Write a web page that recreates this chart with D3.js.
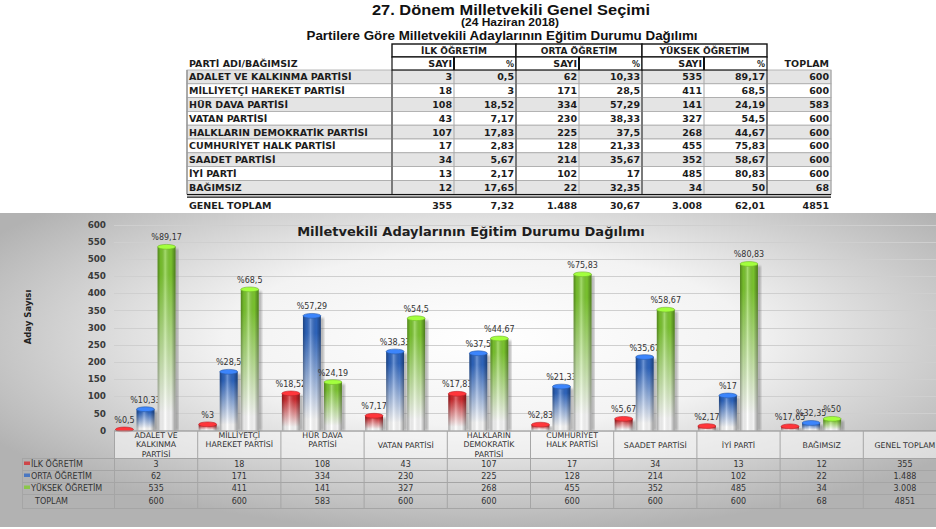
<!DOCTYPE html>
<html>
<head>
<meta charset="utf-8">
<script src="https://cdn.jsdelivr.net/npm/d3@7"></script>
<style>
  body { margin: 0; background: #fff; }
  svg { display: block; }
</style>
</head>
<body>
<div id="vis"></div>
<script>
// data
const parties = ["ADALET VE KALKINMA PARTİSİ", "MİLLİYETÇİ HAREKET PARTİSİ", "HÜR DAVA PARTİSİ", "VATAN PARTİSİ",
  "HALKLARIN DEMOKRATİK PARTİSİ", "CUMHURİYET HALK PARTİSİ", "SAADET PARTİSİ", "İYİ PARTİ", "BAĞIMSIZ"]
const ilk = [3, 18, 108, 43, 107, 17, 34, 13, 12]
const ilkPct = [0.5, 3, 18.52, 7.17, 17.83, 2.83, 5.67, 2.17, 17.65]
const orta = [62, 171, 334, 230, 225, 128, 214, 102, 22]
const ortaPct = [10.33, 28.5, 57.29, 38.33, 37.5, 21.33, 35.67, 17, 32.35]
const yuksek = [535, 411, 141, 327, 268, 455, 352, 485, 34]
const yuksekPct = [89.17, 68.5, 24.19, 54.5, 44.67, 75.83, 58.67, 80.83, 50]
const toplam = [600, 600, 583, 600, 600, 600, 600, 600, 68]
const genelToplam = [355, 7.32, 1488, 30.67, 3008, 62.01, 4851]

const seriesNames = ["İLK ÖĞRETİM", "ORTA ÖĞRETİM", "YÜKSEK ÖĞRETİM"]
const chartLabels = [["ADALET VE", "KALKINMA", "PARTİSİ"], ["MİLLİYETÇİ", "HAREKET PARTİSİ"], ["HÜR DAVA", "PARTİSİ"],
  ["VATAN PARTİSİ"], ["HALKLARIN", "DEMOKRATİK", "PARTİSİ"], ["CUMHURİYET", "HALK PARTİSİ"], ["SAADET PARTİSİ"],
  ["İYİ PARTİ"], ["BAĞIMSIZ"], ["GENEL TOPLAM"]]
const yTicks = [0, 50, 100, 150, 200, 250, 300, 350, 400, 450, 500, 550, 600]

const colors = ["#d42a2e", "#2f68c4", "#7fcc30"]

const tr = d3.formatLocale({ decimal: ",", thousands: ".", grouping: [3], currency: ["", ""] })
const num = tr.format(",d")
const pct = v => String(v).replace(".", ",")

let width = 936
let height = 529

let svg = d3.select("#vis").append("svg")
  .attr("width", width)
  .attr("height", height)

// ---------- top table ----------
const tableFont = "'DejaVu Sans', Verdana, sans-serif"
const chartFont = "'DejaVu Sans', Verdana, sans-serif"
const ink = "#1c1c1c"

svg.append("text").attr("x", 511).attr("y", 15).attr("text-anchor", "middle")
  .attr("textLength", 278).attr("lengthAdjust", "spacingAndGlyphs")
  .style("font", "bold 14.5px 'Liberation Sans', Arial, sans-serif").style("fill", "#111")
  .text("27. Dönem Milletvekili Genel Seçimi")
svg.append("text").attr("x", 510).attr("y", 26).attr("text-anchor", "middle")
  .attr("textLength", 98).attr("lengthAdjust", "spacingAndGlyphs")
  .style("font", "bold 10px 'Liberation Sans', Arial, sans-serif").style("fill", "#111")
  .text("(24 Haziran 2018)")
svg.append("text").attr("x", 502).attr("y", 40).attr("text-anchor", "middle")
  .attr("textLength", 391).attr("lengthAdjust", "spacingAndGlyphs")
  .style("font", "bold 12px 'Liberation Sans', Arial, sans-serif").style("fill", "#111")
  .text("Partilere Göre Milletvekili Adaylarının Eğitim Durumu Dağılımı")

const nameX = 187
const colEdges = [392, 454, 516, 579, 642, 704, 767, 831]
const rowTop = 70
const rowH = 13.8

let tbl = svg.append("g").style("font-family", tableFont).style("font-weight", "bold")

// rows background
parties.forEach((p, i) => {
  tbl.append("rect")
    .attr("x", nameX).attr("y", rowTop + i * rowH)
    .attr("width", colEdges[7] - nameX).attr("height", rowH)
    .attr("fill", i % 2 === 0 ? "#e4e4e4" : "#ffffff")
    .attr("stroke", "#a8a8a8").attr("stroke-width", 0.8)
})

// vertical separators in body
colEdges.forEach((x, j) => {
  let thick = (j % 2 === 0)
  tbl.append("line")
    .attr("x1", x).attr("x2", x)
    .attr("y1", rowTop).attr("y2", rowTop + parties.length * rowH)
    .attr("stroke", thick ? "#7a7a7a" : "#a8a8a8")
    .attr("stroke-width", thick ? 2 : 1)
})
tbl.append("line").attr("x1", nameX).attr("x2", nameX)
  .attr("y1", rowTop).attr("y2", rowTop + parties.length * rowH)
  .attr("stroke", "#9a9a9a").attr("stroke-width", 1.5)

// group header boxes
seriesNames.forEach((s, k) => {
  let x0 = colEdges[k * 2], x1 = colEdges[k * 2 + 2]
  tbl.append("rect").attr("x", x0).attr("y", 44).attr("width", x1 - x0).attr("height", 13)
    .attr("fill", "#fff").attr("stroke", "#111").attr("stroke-width", 1.4)
  tbl.append("text").attr("x", (x0 + x1) / 2).attr("y", 54).attr("text-anchor", "middle")
    .style("font-size", "9px").style("fill", ink).text(s)
  // SAYI / % sub header
  tbl.append("rect").attr("x", x0).attr("y", 57).attr("width", x1 - x0).attr("height", 13)
    .attr("fill", "#fff").attr("stroke", "#111").attr("stroke-width", 1.2)
  tbl.append("line").attr("x1", colEdges[k * 2 + 1]).attr("x2", colEdges[k * 2 + 1])
    .attr("y1", 57).attr("y2", 70).attr("stroke", "#111").attr("stroke-width", 2)
  tbl.append("text").attr("x", colEdges[k * 2 + 1] - 2).attr("y", 67).attr("text-anchor", "end")
    .style("font-size", "9.5px").style("fill", ink).text("SAYI")
  tbl.append("text").attr("x", x1 - 2).attr("y", 67).attr("text-anchor", "end")
    .style("font-size", "8px").style("fill", ink).text("%")
})
tbl.append("text").attr("x", nameX + 2).attr("y", 67)
  .style("font-size", "9.5px").style("fill", ink).text("PARTİ ADI/BAĞIMSIZ")
tbl.append("text").attr("x", colEdges[7] - 2).attr("y", 67).attr("text-anchor", "end")
  .style("font-size", "9.5px").style("fill", ink).text("TOPLAM")

// body values
parties.forEach((p, i) => {
  let yy = rowTop + i * rowH + rowH / 2 + 3.5
  let cells = [num(ilk[i]), pct(ilkPct[i]), num(orta[i]), pct(ortaPct[i]), num(yuksek[i]), pct(yuksekPct[i]), String(toplam[i])]
  tbl.append("text").attr("x", nameX + 2).attr("y", yy)
    .style("font-size", "9.5px").style("fill", ink).text(p)
  cells.forEach((c, j) => {
    tbl.append("text").attr("x", colEdges[j + 1] - 2).attr("y", yy).attr("text-anchor", "end")
      .style("font-size", "9.5px").style("fill", ink).text(c)
  })
})

// double rule + total row
let bottomY = rowTop + parties.length * rowH
tbl.append("line").attr("x1", nameX).attr("x2", colEdges[7]).attr("y1", bottomY + 0.5).attr("y2", bottomY + 0.5)
  .attr("stroke", "#111").attr("stroke-width", 1.2)
tbl.append("line").attr("x1", nameX).attr("x2", colEdges[7]).attr("y1", bottomY + 3).attr("y2", bottomY + 3)
  .attr("stroke", "#111").attr("stroke-width", 1.2)
let gt = [num(genelToplam[0]), pct(genelToplam[1]), num(genelToplam[2]), pct(genelToplam[3]),
  num(genelToplam[4]), pct(genelToplam[5]), String(genelToplam[6])]
tbl.append("text").attr("x", nameX + 2).attr("y", bottomY + 15)
  .style("font-size", "9.5px").style("fill", ink).text("GENEL TOPLAM")
gt.forEach((c, j) => {
  tbl.append("text").attr("x", colEdges[j + 1] - 2).attr("y", bottomY + 15).attr("text-anchor", "end")
    .style("font-size", "9.5px").style("fill", ink).text(c)
})

// ---------- chart panel ----------
let defs = svg.append("defs")
let bg = defs.append("radialGradient").attr("id", "panelbg")
  .attr("cx", "52%").attr("cy", "40%").attr("r", "62%")
bg.append("stop").attr("offset", "0%").attr("stop-color", "#ffffff")
bg.append("stop").attr("offset", "45%").attr("stop-color", "#f3f3f3")
bg.append("stop").attr("offset", "100%").attr("stop-color", "#b2b2b2")

let shade = defs.append("linearGradient").attr("id", "hshade")
  .attr("x1", 0).attr("x2", 1).attr("y1", 0).attr("y2", 0)
shade.append("stop").attr("offset", "0%").attr("stop-color", "#000").attr("stop-opacity", 0.35)
shade.append("stop").attr("offset", "18%").attr("stop-color", "#000").attr("stop-opacity", 0.08)
shade.append("stop").attr("offset", "42%").attr("stop-color", "#fff").attr("stop-opacity", 0.3)
shade.append("stop").attr("offset", "75%").attr("stop-color", "#000").attr("stop-opacity", 0.05)
shade.append("stop").attr("offset", "100%").attr("stop-color", "#000").attr("stop-opacity", 0.4)

colors.forEach((c, k) => {
  let g = defs.append("linearGradient").attr("id", "vg" + k)
    .attr("x1", 0).attr("x2", 0).attr("y1", 0).attr("y2", 1)
  g.append("stop").attr("offset", "0%").attr("stop-color", c)
  g.append("stop").attr("offset", "15%").attr("stop-color", c)
  g.append("stop").attr("offset", "90%").attr("stop-color", "#ffffff")
  g.append("stop").attr("offset", "100%").attr("stop-color", "#ffffff")
})
defs.append("filter").attr("id", "blur").append("feGaussianBlur").attr("stdDeviation", 1.2)

svg.append("rect").attr("x", 0).attr("y", 213).attr("width", width).attr("height", 314)
  .attr("fill", "url(#panelbg)")

const cats = chartLabels.map(d => d.join(" "))
let x = d3.scaleBand().domain(cats).range([114.5, 946.5])
let xs = d3.scaleBand().domain([0, 1, 2]).range([1, 61]).paddingInner(0.15)
let y = d3.scaleLinear().domain([0, 600]).range([430.5, 224.5])

// gridlines
svg.append("g").selectAll("line").data(yTicks).enter().append("line")
  .attr("x1", 114).attr("x2", width)
  .attr("y1", d => Math.round(y(d)) + 0.5).attr("y2", d => Math.round(y(d)) + 0.5)
  .attr("stroke", "#cfcfcf").attr("stroke-width", 1)

// y axis
let yAxis = svg.append("g").attr("transform", "translate(106,0)")
  .call(d3.axisLeft(y).tickValues(yTicks).tickSize(0).tickPadding(0))
yAxis.select(".domain").remove()
yAxis.selectAll("text")
  .style("font-family", chartFont).style("font-weight", "bold").style("font-size", "8.8px")
  .style("fill", "#3a3a3a")

svg.append("text")
  .attr("transform", "translate(31,317) rotate(-90)")
  .attr("text-anchor", "middle")
  .style("font-family", chartFont).style("font-weight", "bold").style("font-size", "8.5px")
  .style("fill", "#222")
  .text("Aday Sayısı")

svg.append("text").attr("x", 471).attr("y", 236).attr("text-anchor", "middle")
  .style("font-family", chartFont).style("font-weight", "bold").style("font-size", "13px")
  .style("fill", "#1e1e1e")
  .text("Milletvekili Adaylarının Eğitim Durumu Dağılımı")

// bars
const barData = []
parties.forEach((p, i) => {
  let vals = [ilk[i], orta[i], yuksek[i]]
  let ps = [ilkPct[i], ortaPct[i], yuksekPct[i]]
  vals.forEach((v, k) => barData.push({ cat: cats[i], k: k, v: v, p: ps[k] }))
})

let bars = svg.append("g").selectAll("g").data(barData).enter().append("g")
  .attr("transform", d => `translate(${x(d.cat) + xs(d.k)},0)`)
const bw = xs.bandwidth()

bars.append("rect") // shadow
  .attr("x", bw - 1).attr("y", d => y(d.v) + 2)
  .attr("width", 4).attr("height", d => y(0) - y(d.v) - 2)
  .attr("fill", "#666").attr("opacity", 0.45).attr("filter", "url(#blur)")
bars.append("rect")
  .attr("x", 0).attr("y", d => y(d.v))
  .attr("width", bw).attr("height", d => y(0) - y(d.v))
  .attr("fill", d => `url(#vg${d.k})`)
bars.append("rect")
  .attr("x", 0).attr("y", d => y(d.v))
  .attr("width", bw).attr("height", d => y(0) - y(d.v))
  .attr("fill", "url(#hshade)")
bars.append("ellipse")
  .attr("cx", bw / 2).attr("cy", d => y(d.v))
  .attr("rx", bw / 2).attr("ry", 2.4)
  .attr("fill", d => d3.color(colors[d.k]).brighter(0.7))
  .attr("stroke", d => d3.color(colors[d.k]).darker(0.4)).attr("stroke-width", 0.6)
bars.append("text")
  .attr("x", bw / 2).attr("y", d => y(d.v) - 6.5)
  .attr("text-anchor", "middle")
  .style("font-family", chartFont).style("font-size", "8px").style("fill", "#333")
  .text(d => "%" + pct(d.p))

// ---------- data table under the chart ----------
const tRows = [458, 470, 482, 494, 508]
let dt = svg.append("g").style("font-family", chartFont)

dt.append("rect").attr("x", 114.5).attr("y", 431).attr("width", width).attr("height", 27)
  .attr("fill", "#f6f6f6").attr("opacity", 0.6)
dt.append("line").attr("x1", 114).attr("x2", width).attr("y1", 431).attr("y2", 431)
  .attr("stroke", "#8a8a8a").attr("stroke-width", 1.2)
tRows.forEach(r => {
  dt.append("line").attr("x1", 22).attr("x2", width).attr("y1", r + 0.5).attr("y2", r + 0.5)
    .attr("stroke", "#a5a5a5").attr("stroke-width", 1)
})
dt.append("line").attr("x1", 22.5).attr("x2", 22.5).attr("y1", 458).attr("y2", 508)
  .attr("stroke", "#a5a5a5")
cats.forEach(c => {
  dt.append("line").attr("x1", x(c)).attr("x2", x(c)).attr("y1", 431).attr("y2", 508)
    .attr("stroke", "#a5a5a5")
})

chartLabels.forEach((lines, i) => {
  let cx = x(cats[i]) + x.bandwidth() / 2
  let y0 = lines.length === 1 ? 447.5 : 437.5
  lines.forEach((l, j) => {
    dt.append("text").attr("x", cx).attr("y", y0 + j * 9.6).attr("text-anchor", "middle")
      .style("font-size", "7.8px").style("fill", "#333").text(l)
  })
})

const rowLabels = seriesNames.concat(["TOPLAM"])
const tableVals = [
  ilk.concat([genelToplam[0]]),
  orta.concat([genelToplam[2]]),
  yuksek.concat([genelToplam[4]]),
  toplam.concat([genelToplam[6]])
]
rowLabels.forEach((lab, r) => {
  let yy = (tRows[r] + tRows[r + 1]) / 2 + 3
  if (r < 3) {
    dt.append("rect").attr("x", 24).attr("y", yy - 5.5).attr("width", 6).attr("height", 3.5)
      .attr("fill", colors[r]).attr("opacity", 0.8)
  }
  dt.append("text").attr("x", r < 3 ? 31 : 35).attr("y", yy)
    .style("font-size", "8px").style("fill", "#333").text(lab)
  tableVals[r].forEach((v, i) => {
    dt.append("text").attr("x", x(cats[i]) + x.bandwidth() / 2).attr("y", yy).attr("text-anchor", "middle")
      .style("font-size", "8px").style("fill", "#333")
      .text(r === 3 ? String(v) : num(v))
  })
})
</script>
</body>
</html>
